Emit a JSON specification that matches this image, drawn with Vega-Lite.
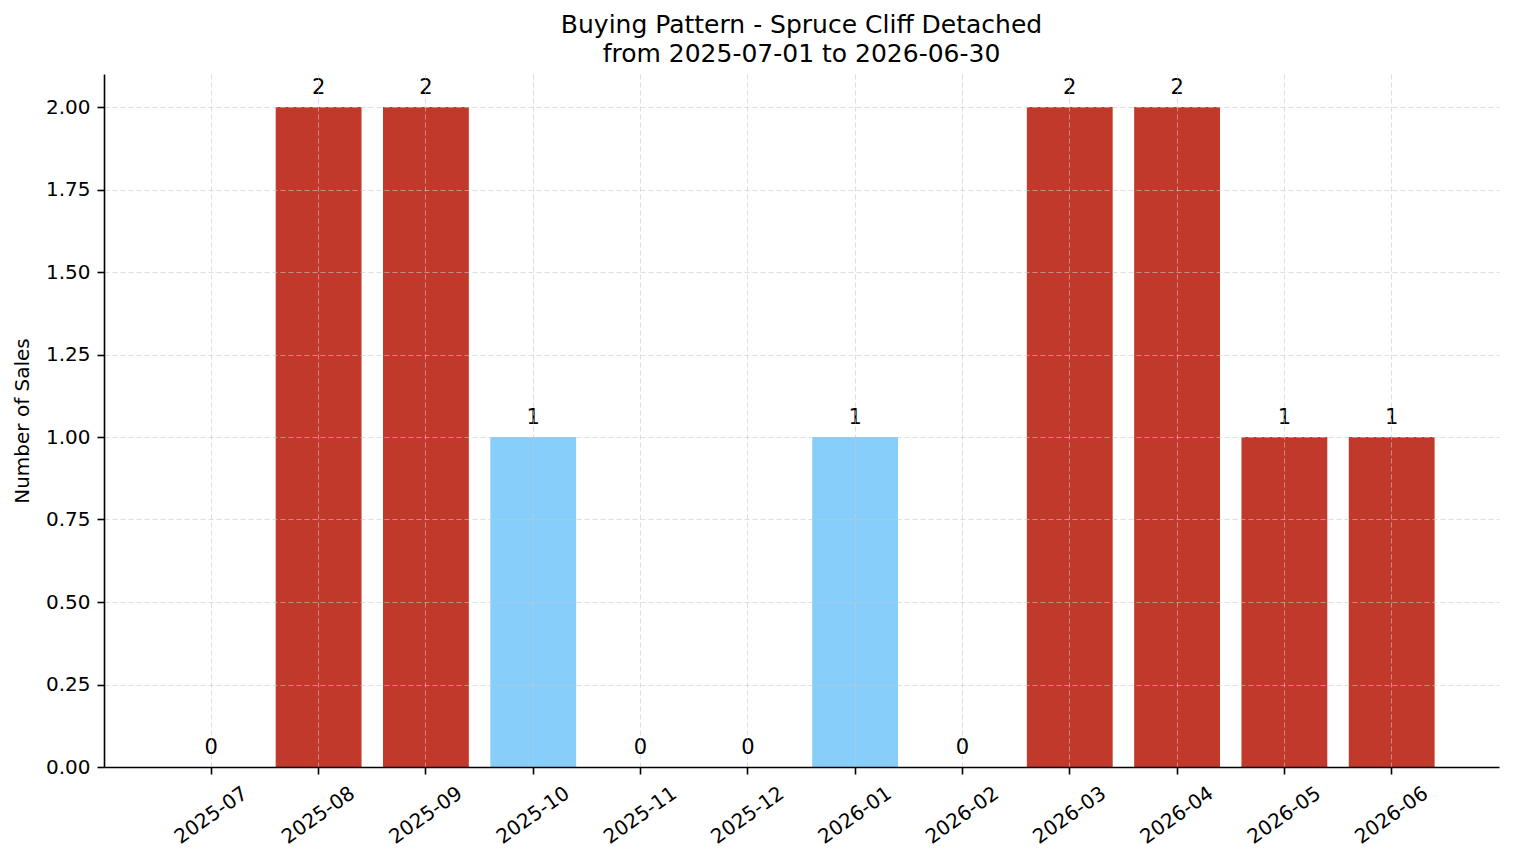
{
  "$schema": "https://vega.github.io/schema/vega-lite/v6.json",
  "width": 1395,
  "height": 693,
  "autosize": {"type": "none"},
  "padding": {"left": 104, "top": 74, "right": 15, "bottom": 96},
  "background": "white",
  "config": {
    "font": "DejaVu Sans",
    "view": {"stroke": null},
    "axis": {
      "labelFont": "DejaVu Sans",
      "titleFont": "DejaVu Sans",
      "labelFontSize": 20,
      "titleFontSize": 20,
      "labelColor": "black",
      "titleColor": "black",
      "titleFontWeight": "normal",
      "domainColor": "black",
      "domainWidth": 1.6,
      "tickColor": "black",
      "tickWidth": 1.6,
      "tickSize": 7,
      "gridColor": "#c8c8c8",
      "gridOpacity": 0.6,
      "gridDash": [5, 3],
      "gridWidth": 1
    }
  },
  "title": {
    "text": ["Buying Pattern - Spruce Cliff Detached", "from 2025-07-01 to 2026-06-30"],
    "font": "DejaVu Sans",
    "fontSize": 25,
    "fontWeight": "normal",
    "color": "black",
    "lineHeight": 29,
    "anchor": "middle",
    "offset": 7
  },
  "data": {
    "values": [
      {"month": "2025-07", "sales": 0, "segment": "peak"},
      {"month": "2025-08", "sales": 2, "segment": "peak"},
      {"month": "2025-09", "sales": 2, "segment": "peak"},
      {"month": "2025-10", "sales": 1, "segment": "low"},
      {"month": "2025-11", "sales": 0, "segment": "peak"},
      {"month": "2025-12", "sales": 0, "segment": "peak"},
      {"month": "2026-01", "sales": 1, "segment": "low"},
      {"month": "2026-02", "sales": 0, "segment": "peak"},
      {"month": "2026-03", "sales": 2, "segment": "peak"},
      {"month": "2026-04", "sales": 2, "segment": "peak"},
      {"month": "2026-05", "sales": 1, "segment": "peak"},
      {"month": "2026-06", "sales": 1, "segment": "peak"}
    ]
  },
  "encoding": {
    "x": {
      "field": "month",
      "type": "ordinal",
      "sort": null,
      "scale": {"paddingInner": 0.2, "paddingOuter": 0.6},
      "axis": {
        "title": null,
        "bandPosition": 0.5,
        "labelAngle": -35,
        "labelAlign": "center",
        "labelBaseline": "middle",
        "labelPadding": 41,
        "labelOverlap": false,
        "labelBound": false,
        "grid": true,
        "zindex": 1
      }
    },
    "y": {
      "field": "sales",
      "type": "quantitative",
      "scale": {"domain": [0, 2.1], "nice": false, "zero": true},
      "axis": {
        "title": "Number of Sales",
        "values": [0, 0.25, 0.5, 0.75, 1, 1.25, 1.5, 1.75, 2],
        "format": ".2f",
        "labelPadding": 7,
        "titlePadding": 13,
        "grid": true,
        "zindex": 1
      }
    }
  },
  "layer": [
    {
      "mark": {"type": "bar"},
      "encoding": {
        "color": {
          "field": "segment",
          "type": "nominal",
          "scale": {"domain": ["peak", "low"], "range": ["#c0392b", "#87cefa"]},
          "legend": null
        }
      }
    },
    {
      "mark": {"type": "text", "baseline": "alphabetic", "dy": -13, "fontSize": 21, "color": "black", "font": "DejaVu Sans"},
      "encoding": {
        "text": {"field": "sales", "type": "quantitative", "format": "d"}
      }
    }
  ]
}
